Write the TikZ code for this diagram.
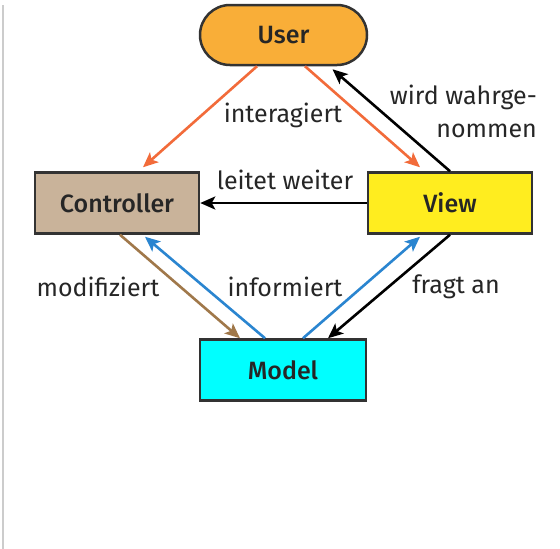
\documentclass[tikz,border=0pt]{standalone}
\usepackage{fontspec}
\setmainfont{Fira Sans}
\newfontfamily\boxfont{Fira Sans Medium}
\usetikzlibrary{arrows.meta}
\definecolor{userfill}{HTML}{F9AE38}
\definecolor{ctrlfill}{HTML}{C9B39A}
\definecolor{viewfill}{HTML}{FFED1F}
\definecolor{modelfill}{HTML}{00FFFF}
\definecolor{edge}{HTML}{333333}
\definecolor{orangeline}{HTML}{F26B3A}
\definecolor{brownline}{HTML}{A0784A}
\definecolor{blueline}{HTML}{2A85D0}
\definecolor{rulegrey}{HTML}{CCCCCC}
\tikzset{
  x=1pt, y=1pt,
  box/.style={draw=edge, line width=2.5pt, minimum height=61pt, minimum width=164pt,
    inner sep=0pt, font=\boxfont\fontsize{25}{28}\selectfont, text=black!85},
  arr/.style={line width=2.6pt, -{Stealth[length=15pt,width=13pt,inset=3.5pt]}},
  lbl/.style={font=\fontsize{25}{33}\selectfont, text=black!85, inner sep=0pt}
}
\begin{document}
\begin{tikzpicture}
\useasboundingbox (0,0) rectangle (560,-549);
\fill[white] (0,0) rectangle (560,-549);
% left margin rule
\draw[rulegrey, line width=1.5pt] (3,-5) -- (3,-549);

% boxes
\node[box, fill=userfill, rounded corners=30pt, minimum width=167pt, minimum height=60pt] (user) at (283.5,-35) {User};
\node[box, fill=ctrlfill] (ctrl) at (117,-203) {Controller};
\node[box, fill=viewfill] (view) at (450,-203) {View};
\node[box, fill=modelfill, minimum width=166pt] (model) at (283,-370) {Model};

% User -> Controller / View
\draw[arr, orangeline] ([xshift=-26.5pt]user.south) -- ([xshift=26pt,yshift=4pt]ctrl.north);
\draw[arr, orangeline] ([xshift=21.5pt]user.south) -- ([xshift=-30pt,yshift=4pt]view.north);
% View -> User
\draw[arr, black] (view.north) -- ([xshift=49pt,yshift=-3pt]user.south);
% View -> Controller
\draw[arr, black] (view.west) -- (ctrl.east);
% Controller -> Model
\draw[arr, brownline] ([xshift=3pt]ctrl.south) -- ([xshift=-43pt]model.north);
% Model -> Controller / View
\draw[arr, blueline] ([xshift=-18pt]model.north) -- ([xshift=28pt,yshift=-2pt]ctrl.south);
\draw[arr, blueline] ([xshift=20pt]model.north) -- ([xshift=-30pt,yshift=-2pt]view.south);
% View -> Model
\draw[arr, black] (view.south) -- ([xshift=45pt]model.north);

% labels
\node[lbl] (l1) at (283,-115) {interagiert};
\node[lbl, anchor=east, align=right] (l2) at (537,-111) {wird wahrge-\\nommen};
\node[lbl] (l3) at (285,-180) {leitet weiter};
\node[lbl] (l4) at (98,-287) {modifiziert};
\node[lbl] (l5) at (285,-287) {informiert};
\node[lbl] (l6) at (456,-287) {fragt an};
\end{tikzpicture}
\end{document}
